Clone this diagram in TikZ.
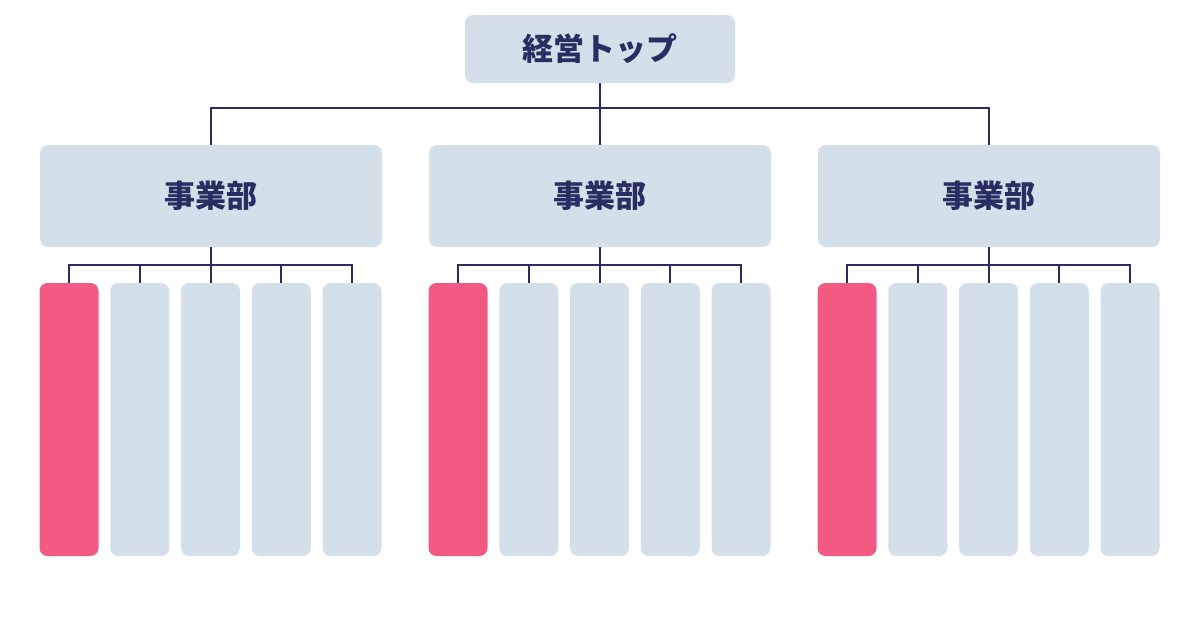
\documentclass[tikz,border=0pt]{standalone}
\usepackage{fontspec}
\newfontfamily\cjk{Noto Sans CJK JP}[BoldFont={Noto Sans CJK JP Black}]
\usetikzlibrary{positioning}
\definecolor{boxgray}{HTML}{D5DFEA}
\definecolor{accent}{HTML}{F25A84}
\definecolor{navy}{HTML}{2A2D62}

\begin{document}
\begin{tikzpicture}[x=1pt,y=-1pt,
  unit/.style={fill=boxgray,rounded corners=8pt,inner sep=0pt,text=navy,
    font=\cjk\bfseries\fontsize{31}{36}\selectfont},
  member/.style={rounded corners=8pt,inner sep=0pt,minimum width=59pt,minimum height=273pt},
  link/.style={draw=navy,line width=2pt}]
\useasboundingbox (0,0) rectangle (1200,630);
\node[unit,minimum width=270pt,minimum height=68pt] (top) at (600,49) {経営トップ};
\foreach \d/\cx in {1/211,2/600,3/989}{
  \node[unit,minimum width=342pt,minimum height=102pt] (div\d) at (\cx,196) {事業部};
  \foreach \c/\col in {1/accent,2/boxgray,3/boxgray,4/boxgray,5/boxgray}
    \node[member,fill=\col] (col\d-\c) at (\cx+\c*70.75-212.75,419.5) {};
  \draw[link] (div\d.south) -- ++(0,18) coordinate (bus\d);
  \draw[link] (col\d-1.north) |- (col\d-5.north |- bus\d) -- (col\d-5.north);
  \foreach \c in {2,3,4}
    \draw[link] (col\d-\c.north) -- (col\d-\c.north |- bus\d);
}
\path (top.south) ++(0,25) coordinate (hub);
\draw[link] (top.south) -- (div2.north);
\draw[link] (div1.north) |- (hub) -| (div3.north);
\end{tikzpicture}
\end{document}
